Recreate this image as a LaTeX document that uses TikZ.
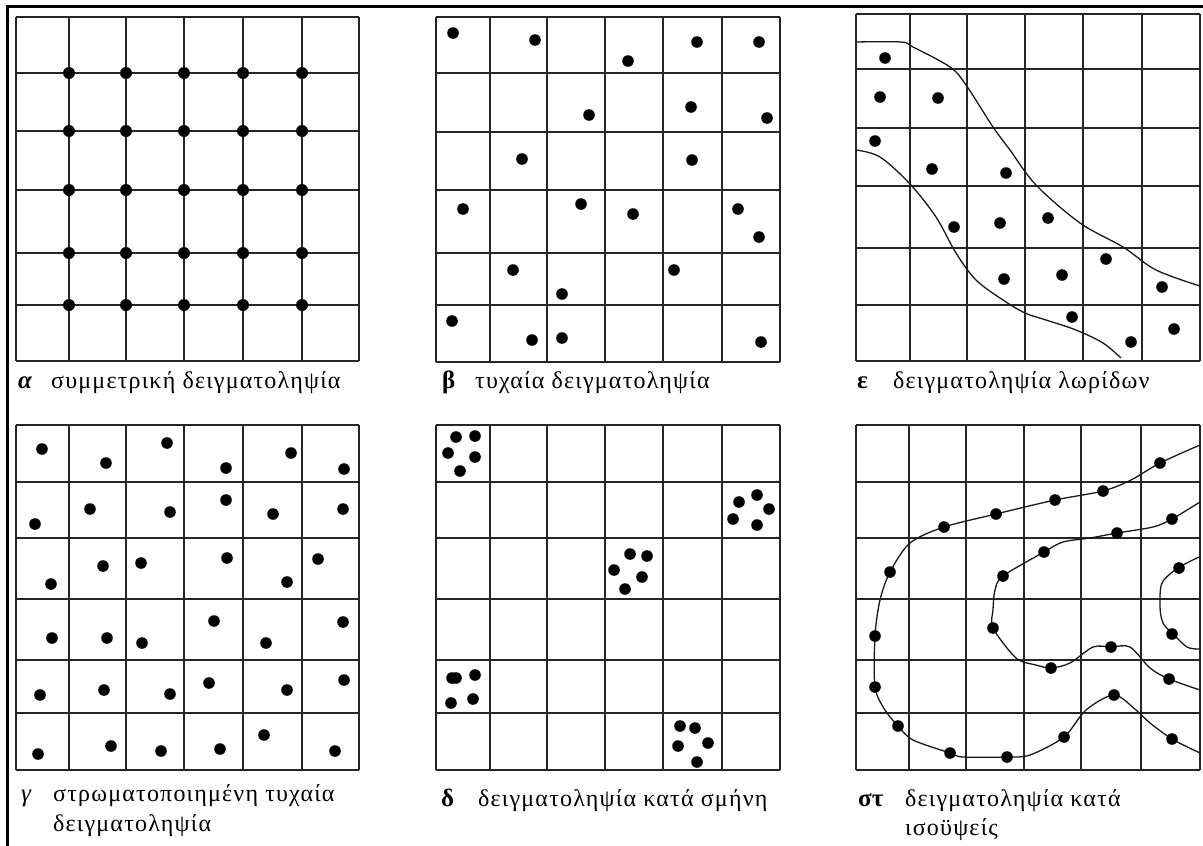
\documentclass[tikz,border=0pt]{standalone}
\usepackage{fontspec}
\setmainfont{Liberation Serif}
\newfontfamily\capfont[LetterSpace=5.0]{Liberation Serif}
\tikzset{
  gridline/.style={line width=1.8pt, black!85},
  frameline/.style={line width=3pt, black},
  contour/.style={line width=1.3pt, black!90},
  caption/.style={anchor=base west, inner sep=0pt, font=\capfont\fontsize{24}{28}\selectfont},
  tag/.style={anchor=base west, inner sep=0pt, font=\fontsize{25}{28}\selectfont\bfseries},
}
\newcommand\panelgrid[6]{%
  \foreach \xx in {#1} \draw[gridline] (\xx,#5) -- (\xx,#6);
  \foreach \yy in {#2} \draw[gridline] (#3,\yy) -- (#4,\yy);
}
\newcommand\smpdots[1]{%
  \foreach \xx/\yy in {#1} \fill (\xx,\yy) circle (5.8);
}
\begin{document}
\begin{tikzpicture}[x=1pt,y=-1pt]
\useasboundingbox[fill=white] (0,0) rectangle (1203,846);
% frame
\draw[frameline] (7,846) -- (7,6.5) -- (1203,6.5);

% ---------- alpha ----------
\panelgrid{16,69,126,184,243,302,359}{17,73,131,190,253,305,361}{16}{359}{17}{361}
\foreach \xx in {69,126,184,243,302}
  \foreach \yy in {73,131,190,253,305}
    \fill (\xx,\yy) circle (6);
\node[tag, font=\fontsize{25}{28}\selectfont\bfseries\itshape] (ta) at (18,388) {α};
\node[caption] (ca) at (51,388) {συμμετρική δειγματοληψία};

% ---------- beta ----------
\panelgrid{436,490,547,605,663,722,780}{17,73,132,190,253,305,362}{436}{780}{17}{362}
\smpdots{453/33,535/40,628/61,697/42,759/42,589/115,691/107,767/118,522/159,692/160,
463/209,581/204,633/214,738/209,759/237,513/270,674/270,562/294,452/321,532/340,562/338,761/342}
\node[tag] (tb) at (442,388) {β};
\node[caption] (cb) at (475,388) {τυχαία δειγματοληψία};

% ---------- epsilon ----------
\panelgrid{856,910,967,1025,1083,1142,1200}{14,69,128,186,248,305,361}{856}{1200}{14}{361}
\draw[contour] plot[smooth, tension=0.55] coordinates {(856,42) (901,42) (913,47) (950,67) (966,85) (993,127) (1010,150) (1036,185) (1080,223) (1123,247) (1156,270) (1200,286)};
\draw[contour] plot[smooth, tension=0.55] coordinates {(856,150) (880,157) (910,184) (936,217) (956,253) (976,280) (1003,300) (1025,313) (1046,320) (1076,330) (1103,343) (1121,358)};
\smpdots{885/58,880/97,938/98,875/141,932/169,1006/173,954/227,1000/223,1048/218,1106/259,
1004/279,1062/275,1162/287,1072/317,1131/342,1174/329}
\node[tag] (te) at (857,388) {ε};
\node[caption] (ce) at (893,388) {δειγματοληψία λωρίδων};

% ---------- gamma ----------
\panelgrid{16,69,126,184,243,302,359}{425,482,538,599,660,713,770}{16}{359}{425}{770}
\smpdots{42/449,106/463,167/443,226/468,291/453,344/469,
35/524,90/509,170/512,226/500,273/514,343/509,
51/584,103/566,141/563,227/558,287/582,318/559,
52/638,107/638,142/643,214/621,266/643,343/622,
40/695,104/690,170/694,209/683,287/690,344/680,
38/754,111/746,161/751,220/749,264/735,335/751}
\node[tag, font=\fontsize{25}{28}\selectfont\itshape] (tg) at (21,801) {γ};
\node[caption] (cg1) at (53,801) {στρωματοποιημένη τυχαία};
\node[caption] (cg2) at (53,831) {δειγματοληψία};

% ---------- delta ----------
\panelgrid{436,490,547,605,663,722,780}{425,482,538,599,660,713,770}{436}{780}{425}{770}
\smpdots{456/437,475/436,448/453,475/457,460/471,
757/495,739/502,769/509,733/519,757/525,
630/554,647/556,614/570,642/577,625/589,
452/678,456/678,475/675,451/703,473/699,
680/726,695/728,678/746,708/743,697/762}
\node[tag] (td) at (441,806) {δ};
\node[caption] (cd) at (478,806) {δειγματοληψία κατά σμήνη};

% ---------- sigma-tau ----------
\panelgrid{856,909,966,1024,1081,1141,1200}{425,482,538,599,660,713,770}{856}{1200}{425}{770}
\draw[contour] plot[smooth, tension=0.5] coordinates {(1200,445) (1160,463) (1131,480) (1103,491) (1055,500) (996,514) (944,527) (910,543) (890,572) (880,600) (875,636) (875,687) (885,710) (898,726) (913,740) (950,753) (963,757) (1007,757) (1030,755) (1064,737) (1086,710) (1114,695) (1136,710) (1150,723) (1172,739) (1200,753)};
\draw[contour] plot[smooth, tension=0.5] coordinates {(1200,502) (1172,519) (1153,527) (1117,533) (1090,538) (1063,542) (1044,552) (1003,576) (995,590) (993,610) (993,628) (1016,658) (1036,665) (1051,668) (1070,663) (1093,647) (1111,647) (1130,647) (1150,668) (1169,679) (1200,690)};
\draw[contour] plot[smooth, tension=0.5] coordinates {(1199,557) (1178,568) (1162,583) (1160,607) (1163,623) (1172,633) (1187,647) (1199,649)};
\smpdots{1160/463,1103/491,1055/500,996/514,944/527,890/572,875/636,875/687,898/726,950/753,1007/757,1064/737,1114/695,1172/739,
1172/519,1117/533,1044/552,1003/576,993/628,1051/668,1111/647,1169/679,
1179/568,1172/634}
\node[tag] (ts) at (858,806) {στ};
\node[caption] (cs1) at (905,806) {δειγματοληψία κατά};
\node[caption] (cs2) at (905,835) {ισοϋψείς};
\end{tikzpicture}
\end{document}
